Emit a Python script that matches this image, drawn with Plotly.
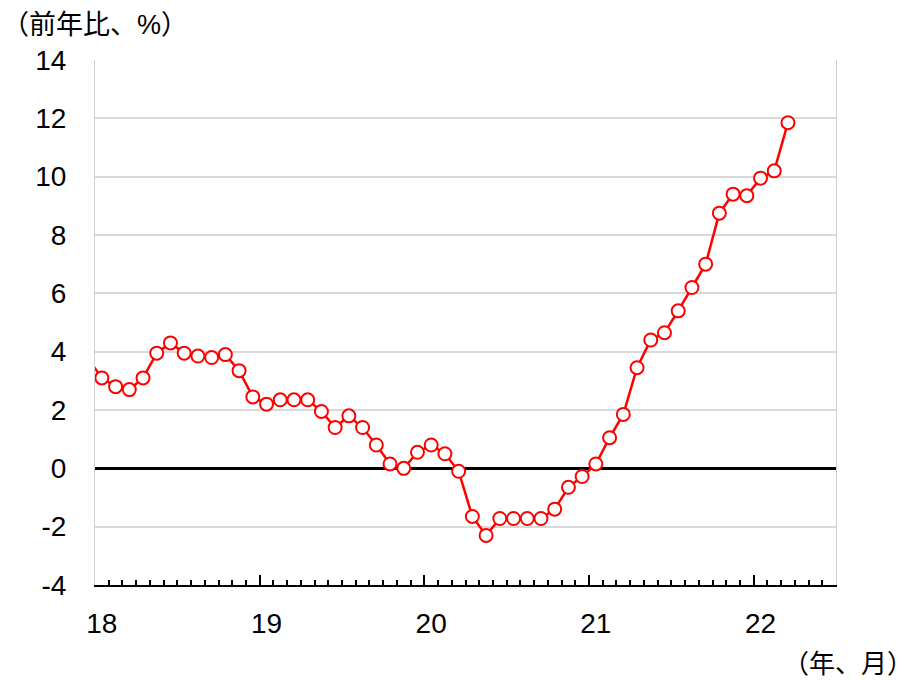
import plotly.graph_objects as go

# month index 0 = 2018-01; -1 is the Dec-2017 point that runs off the left edge
months = list(range(-1, 51))
yoy = [3.75,
       3.1, 2.8, 2.7, 3.1, 3.95, 4.3, 3.95, 3.85, 3.8, 3.9, 3.35, 2.45,
       2.2, 2.35, 2.35, 2.35, 1.95, 1.4, 1.8, 1.4, 0.8, 0.15, 0.0, 0.55,
       0.8, 0.5, -0.1, -1.65, -2.3, -1.72, -1.72, -1.72, -1.72, -1.4, -0.65, -0.28,
       0.15, 1.05, 1.85, 3.45, 4.4, 4.65, 5.4, 6.2, 7.0, 8.75, 9.4, 9.35,
       9.95, 10.2, 11.85]

year_pos = [0, 12, 24, 36, 48]
year_labels = ['18', '19', '20', '21', '22']
year_bounds = [-0.5, 11.5, 23.5, 35.5, 47.5, 53.5]

y_ticks = [-4, -2, 0, 2, 4, 6, 8, 10, 12, 14]
y_labels = ['-4', '-2', '0', '2', '4', '6', '8', '10', '12', '14']

x_range = [-0.5, 53.5]
font_main = 'Liberation Sans, Arial, Noto Sans CJK JP'

# no marker on the off-chart point, only its line segment shows
marker_sizes = [0 if m < 0 else 13 for m in months]

fig = go.Figure()
fig.add_trace(go.Scatter(
    x=months, y=yoy, mode='lines+markers',
    line=dict(color='#ff0000', width=2.5),
    marker=dict(size=marker_sizes, color='white', opacity=1,
                line=dict(color='#ff0000', width=2)),
    showlegend=False, cliponaxis=True
))
# invisible trace so the tick-only axis gets drawn
fig.add_trace(go.Scatter(x=[0], y=[None], xaxis='x2', showlegend=False, hoverinfo='skip'))

fig.update_layout(
    width=915, height=680,
    margin=dict(l=95, r=79, t=60, b=95),
    plot_bgcolor='white', paper_bgcolor='white',
    font=dict(family=font_main, color='black', size=28),
    xaxis=dict(
        range=x_range, tickvals=year_pos, ticktext=year_labels,
        ticks='', showgrid=False, zeroline=False,
        showline=True, linecolor='black', linewidth=2,
        tickfont=dict(size=28), ticklabelstandoff=12
    ),
    xaxis2=dict(
        overlaying='x', anchor='y', side='bottom', range=x_range,
        tickvals=year_bounds, ticks='inside', ticklen=10, tickwidth=2, tickcolor='black',
        showticklabels=False, showgrid=False, zeroline=False, showline=False,
        minor=dict(tick0=-0.5, dtick=1, ticks='inside', ticklen=5, tickwidth=2, tickcolor='black')
    ),
    yaxis=dict(
        range=[-4, 14], tickvals=y_ticks, ticktext=y_labels,
        showgrid=True, gridcolor='#d9d9d9', gridwidth=2,
        zeroline=True, zerolinecolor='black', zerolinewidth=2.5,
        showline=True, mirror=True, linecolor='#d0d0d0', linewidth=1,
        ticks='', tickfont=dict(size=28), ticklabelstandoff=22
    ),
    annotations=[
        dict(text='（前年比、%）', xref='paper', yref='paper',
             x=(0 - 95) / 741, y=(585 - 25) / 525, xanchor='left', yanchor='middle',
             showarrow=False, font=dict(size=27)),
        dict(text='（年、月）', xref='paper', yref='paper',
             x=(915 - 95) / 741, y=(585 - 664) / 525, xanchor='right', yanchor='middle',
             showarrow=False, font=dict(size=26)),
    ]
)

fig.write_html('out.html', config={'displayModeBar': False},
               post_script="document.body.style.margin='0';")
